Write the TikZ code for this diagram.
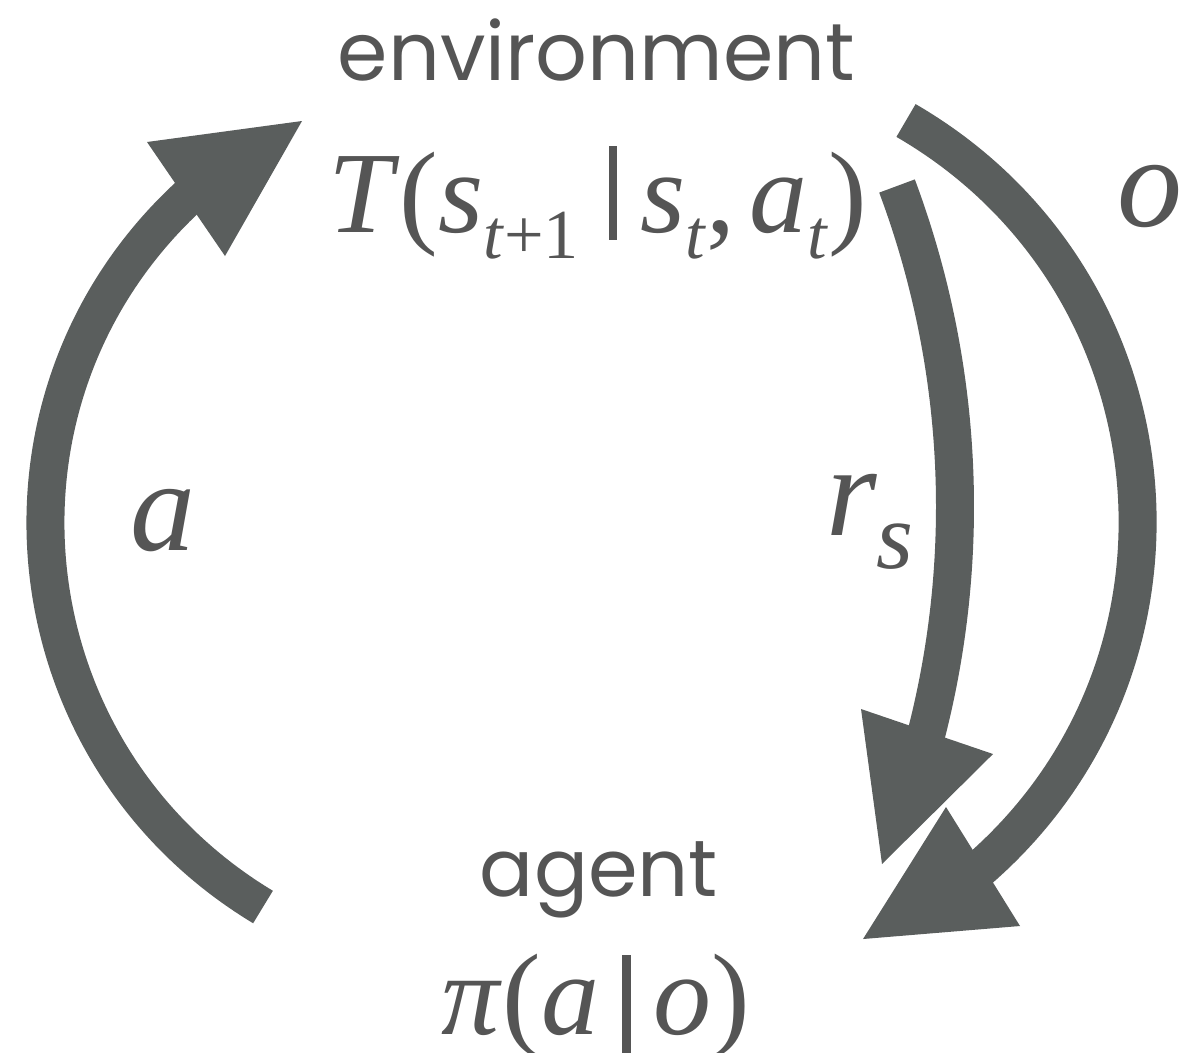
\documentclass[tikz,border=0pt]{standalone}
\usepackage{fontspec}
\setmainfont{Liberation Serif}
\newfontfamily\handfont{Poppins}
\definecolor{arrowgray}{RGB}{90,94,93}
\definecolor{textgray}{RGB}{85,85,85}
\newcommand\subx[2]{\raisebox{-#1}{\fontsize{40}{40}\selectfont #2}}
\newcommand\mbar[2]{\rule[-#1]{4.8pt}{#2}}
\begin{document}
\begin{tikzpicture}[x=0.02cm,y=-0.02cm,
  flow/.style={draw=arrowgray, line width=0.76cm, line cap=butt},
  head/.style={fill=arrowgray, draw=none},
  lbl/.style={inner sep=0pt, outer sep=0pt, anchor=base, text=textgray}]
\useasboundingbox (0,0) rectangle (1195,1052);

% text
\node[lbl] (env) at (596.5,80) {\resizebox{10.34cm}{!}{\handfont environment}};
\node[lbl] (Tdist) at (597.5,232) {\fontsize{66}{66}\selectfont\textit{T}(\textit{s}\subx{15pt}{\textit{t}+1}\hspace{17pt}\mbar{4.5pt}{53.5pt}\hspace{13pt}\textit{s}\subx{15pt}{\textit{t}},\hspace{8pt}\textit{a}\subx{15pt}{\textit{t}})};
\node[lbl] (agent) at (599,896) {\resizebox{4.76cm}{!}{\handfont agent}};
\node[lbl] (pol) at (596,1034) {\fontsize{66}{66}\selectfont\textit{π}(\textit{a}\hspace{13pt}\mbar{14pt}{59pt}\hspace{13pt}\textit{o})};
\node[lbl] (la) at (163,550) {\fontsize{74}{74}\selectfont\textit{a}};
\node[lbl] (lo) at (1150,226) {\fontsize{74}{74}\selectfont\textit{o}};
\node[lbl, anchor=base west] (lr) at (826,535) {\fontsize{74}{74}\selectfont\textit{r}\raisebox{-19pt}{\fontsize{54}{54}\selectfont\textit{s}}};

% action arrow (left)
\coordinate (aS) at (263,907);
\coordinate (aE) at (191.5,193.6);
\coordinate (aT) at (302,121);
\coordinate (aB1) at (147,142);
\coordinate (aB2) at (225,256);
\draw[flow] (aS) .. controls +(211.1:300) and +(137.7:300) .. (aE);
\fill[head] (aB1) -- (aT) -- (aB2) -- cycle;

% observation arrow (outer right)
\coordinate (oS) at (906,120.5);
\coordinate (oE) at (976.7,871.5);
\coordinate (oT) at (863,939);
\coordinate (oB1) at (946,807);
\coordinate (oB2) at (1020,926);
\draw[flow] (oS) .. controls +(30.1:319) and +(-40.7:319) .. (oE);
\fill[head] (oB1) -- (oT) -- (oB2) -- cycle;

% reward arrow (inner right)
\coordinate (rS) at (897,186);
\coordinate (rE) at (923,746.4);
\coordinate (rT) at (882,864);
\coordinate (rB1) at (861,709);
\coordinate (rB2) at (993,754);
\draw[flow] (rS) .. controls +(69.5:191.6) and +(-74.8:191.6) .. (rE);
\fill[head] (rB1) -- (rT) -- (rB2) -- cycle;
\end{tikzpicture}
\end{document}
